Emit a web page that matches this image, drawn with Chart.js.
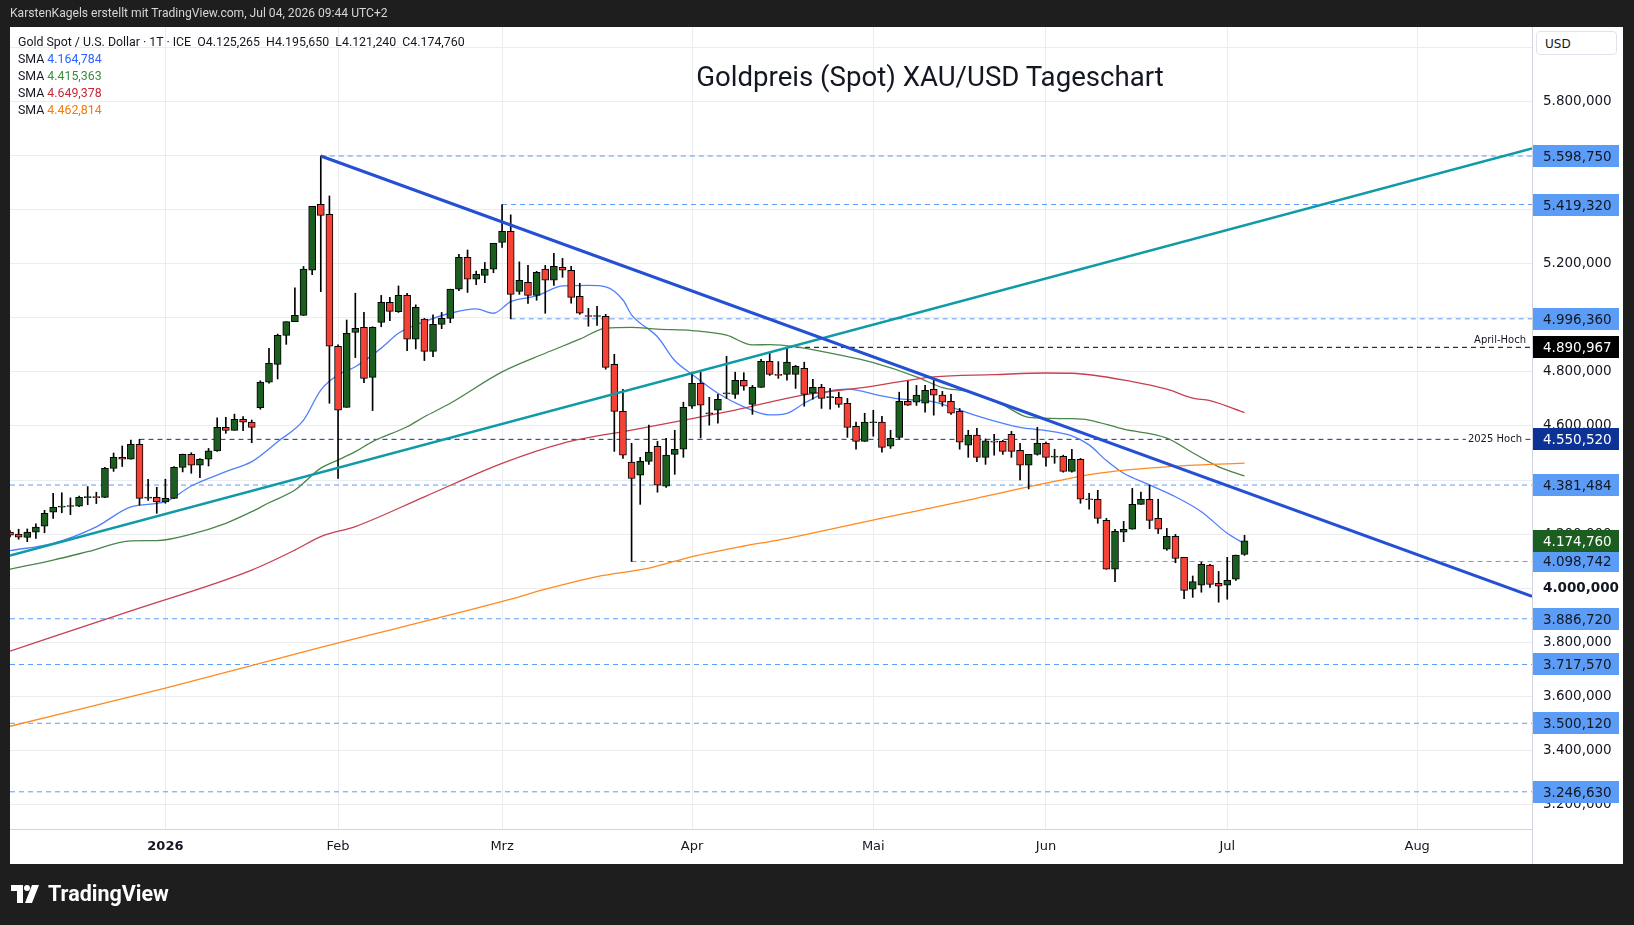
<!DOCTYPE html>
<html>
<head>
<meta charset="utf-8">
<style>
  html, body { margin: 0; padding: 0; background: #1e1e1e; }
  body { width: 1634px; height: 925px; position: relative; overflow: hidden; font-family: Roboto, sans-serif; }
  #chart { position: absolute; left: 0; top: 0; }
  #header { position: absolute; left: 10px; top: 6px; color: #d6d6d6; font-size: 12.1px; white-space: nowrap; }
  #legend { position: absolute; left: 18px; top: 34px; color: #131722; font-size: 12.35px; line-height: 16.9px; white-space: pre; }
  #title { position: absolute; left: 930px; top: 60px; transform: translateX(-50%); font-size: 27.6px; color: #131722; white-space: nowrap; }
  #usd { position: absolute; left: 1536px; top: 31px; width: 81px; height: 24px; border: 1px solid #e0e3eb; border-radius: 4px;
         background: #fff; font: 12px 'DejaVu Sans', sans-serif; color: #131722; line-height: 24px; padding-left: 8px; box-sizing: border-box; }
  #brand { position: absolute; left: 11px; top: 881px; color: #fff; font-size: 21.5px; font-weight: 700; display: flex; align-items: center; }
  #brand svg { margin-right: 9px; }
</style>
</head>
<body>
<canvas id="chart" width="1634" height="925"></canvas>
<div id="header">KarstenKagels erstellt mit TradingView.com, Jul 04, 2026 09:44 UTC+2</div>
<div id="legend"></div>
<div id="title">Goldpreis (Spot) XAU/USD Tageschart</div>
<div id="usd">USD</div>
<div id="brand">
  <svg width="28" height="18" viewBox="0 0 28 18"><rect x="0" y="0" width="12" height="6" fill="#fff"/><rect x="6" y="0" width="6" height="18" fill="#fff"/><circle cx="16" cy="3" r="3" fill="#fff"/><polygon points="21,0 28,0 21,18 14,18" fill="#fff"/></svg>
  TradingView
</div>
<script src="https://cdn.jsdelivr.net/npm/chart.js@4.4.1/dist/chart.umd.min.js"></script>
<script>
// daily bars, bar index 0 = first session of 2026
const firstBar = -18;
const opens = [
  4207, 4200, 4188, 4207, 4229, 4281, 4300, 4302, 4303, 4335,
  4337, 4336, 4443, 4484, 4477, 4532, 4333, 4336, 4319, 4332,
  4447, 4495, 4455, 4477, 4508, 4595, 4584, 4625, 4614, 4668,
  4762, 4828, 4935, 4986, 5009, 5176, 5420, 5383, 4895, 4669,
  4946, 4965, 4780, 4983, 5057, 5023, 5083, 4921, 4995, 4876,
  4976, 4998, 5106, 5224, 5143, 5157, 5180, 5279, 5320, 5098,
  5131, 5083, 5180, 5139, 5187, 5176, 5080, 5007, 5005, 5006,
  4828, 4654, 4466, 4418, 4469, 4525, 4377, 4495, 4514, 4673,
  4758, 4645, 4658, 4719, 4717, 4769, 4680, 4743, 4839, 4789,
  4791, 4791, 4813, 4721, 4743, 4705, 4706, 4684, 4599, 4543,
  4612, 4614, 4525, 4558, 4691, 4688, 4684, 4736, 4714, 4691,
  4654, 4529, 4566, 4484, 4541, 4543, 4569, 4510, 4455, 4495,
  4536, 4485, 4488, 4432, 4477, 4330, 4329, 4251, 4070, 4207,
  4218, 4310, 4329, 4258, 4144, 4192, 4114, 3996, 4011, 4085,
  4018, 4011, 4033, 4125.265
];
const highs = [
  4213, 4218, 4219, 4238, 4288, 4351, 4353, 4334, 4341, 4376,
  4355, 4447, 4500, 4526, 4548, 4550.52, 4403, 4373, 4403, 4450,
  4496, 4501, 4479, 4517, 4630, 4632, 4644, 4635, 4622, 4767,
  4887, 4940, 4986, 5111, 5190, 5413, 5598.75, 5451, 4900, 4992,
  5091, 5020, 4967, 5083, 5076, 5118, 5091, 5048, 4998, 5011,
  5020, 5106, 5235, 5251, 5173, 5205, 5276, 5419.32, 5381, 5207,
  5194, 5172, 5194, 5239, 5220, 5191, 5128, 5035, 5043, 5013,
  4865, 4736, 4536, 4484, 4603, 4543, 4554, 4584, 4688, 4799,
  4799, 4706, 4717, 4858, 4799, 4797, 4750, 4847, 4869, 4838,
  4890.967, 4824, 4836, 4773, 4754, 4739, 4725, 4702, 4614, 4647,
  4658, 4636, 4584, 4725, 4765, 4750, 4750, 4773, 4728, 4717,
  4665, 4584, 4591, 4552, 4569, 4547, 4580, 4536, 4495, 4595,
  4540, 4514, 4492, 4514, 4480, 4351, 4362, 4258, 4218, 4247,
  4369, 4355, 4381, 4329, 4221, 4199, 4114, 4045, 4096, 4088,
  4062, 4114, 4122, 4195.65
];
const lows = [
  4190, 4181, 4172, 4184, 4205, 4258, 4279, 4272, 4301, 4309,
  4313, 4335, 4432, 4450, 4477, 4307, 4325, 4277, 4314, 4331,
  4430, 4425, 4409, 4452, 4506, 4573, 4584, 4583, 4538, 4662,
  4758, 4774, 4902, 4986, 5009, 5160, 5097, 4684, 4406, 4669,
  4853, 4760, 4657, 4967, 4990, 5020, 4879, 4885, 4842, 4856,
  4960, 4982, 5101, 5094, 5123, 5130, 5167, 5261, 4996.36, 5087,
  5053, 5065, 5017, 5120, 5150, 5054, 5013, 4969, 4972, 4810,
  4506, 4480, 4098.742, 4310, 4458, 4355, 4373, 4421, 4484, 4665,
  4556, 4603, 4610, 4702, 4702, 4732, 4643, 4743, 4787, 4776,
  4769, 4739, 4673, 4699, 4665, 4662, 4669, 4558, 4514, 4543,
  4562, 4503, 4517, 4551, 4676, 4676, 4651, 4640, 4673, 4643,
  4514, 4484, 4468, 4458, 4492, 4495, 4484, 4400, 4367, 4492,
  4451, 4462, 4429, 4429, 4314, 4292, 4240, 4070, 4024, 4172,
  4218, 4310, 4220, 4202, 4140, 4094, 3961, 3966, 3985, 4003,
  3948, 3959, 4029, 4121.24
];
const closes = [
  4196, 4189, 4207, 4226, 4277, 4299, 4303, 4304, 4336, 4337,
  4335, 4443, 4484, 4477, 4532, 4332, 4335, 4319, 4332, 4447,
  4495, 4455, 4477, 4508, 4595, 4584, 4625, 4614, 4595, 4762,
  4832, 4935, 4986, 5009, 5180, 5413, 5379, 4895, 4658, 4943,
  4961, 4776, 4965, 5057, 5024, 5083, 4921, 5039, 4876, 4976,
  4998, 5106, 5224, 5143, 5161, 5180, 5276, 5320, 5087, 5139,
  5083, 5168, 5139, 5191, 5176, 5076, 5017, 5005, 5007, 4817,
  4654, 4492, 4406, 4469, 4503, 4381, 4492, 4514, 4669, 4758,
  4677, 4648, 4699, 4722, 4769, 4747, 4743, 4839, 4791, 4787,
  4836, 4821, 4717, 4743, 4702, 4707, 4680, 4595, 4543, 4614,
  4614, 4521, 4554, 4691, 4677, 4714, 4732, 4714, 4688, 4647,
  4540, 4566, 4484, 4545, 4540, 4506, 4506, 4455, 4495, 4536,
  4484, 4487, 4432, 4477, 4329, 4327, 4258, 4070, 4210, 4218,
  4310, 4329, 4251, 4218, 4192, 4110, 3992, 4024, 4088, 4014,
  4007, 4029, 4122, 4174.76
];

// moving averages: [bar index, value]
const sma20 = [[-18,4139],[-13,4166],[-8,4227],[-4,4301],[0,4320],[3,4378],[7,4431],[10,4468],[13,4542],[16,4622],[18,4733],[20,4789],[22,4819],[25,4888],[27,4943],[30,4986],[33,5017],[36,5033],[38,5017],[40,5060],[43,5081],[46,5118],[49,5120],[51,5115],[53,5066],[54,5011],[57,4930],[59,4842],[61,4791],[64,4721],[67,4671],[70,4641],[72,4647],[74,4684],[77,4730],[79,4736],[83,4711],[85,4700],[89,4689],[92,4659],[95,4628],[99,4595],[102,4583],[105,4563],[107,4530],[109,4472],[111,4425],[114,4382],[117,4338],[120,4283],[123,4203],[125,4164.784]];
const sma50 = [[-18,4070],[-13,4104],[-9,4135],[-4,4175],[-1,4176],[3,4200],[7,4240],[10,4283],[12,4316],[15,4363],[18,4444],[20,4474],[22,4505],[24,4542],[28,4597],[30,4634],[33,4684],[39,4800],[44,4869],[48,4921],[51,4962],[54,4965],[57,4958],[61,4953],[65,4936],[68,4900],[70,4901],[73,4893],[78,4863],[82,4834],[87,4782],[90,4742],[93,4727],[97,4678],[100,4632],[105,4627],[107,4622],[111,4588],[116,4555],[119,4501],[122,4449],[125,4415.363]];
const sma100 = [[-18,3767],[-4,3916],[10,4067],[15,4141],[18,4191],[22,4228],[30,4338],[39,4462],[46,4536],[54,4585],[61,4627],[66,4659],[74,4715],[81,4743],[89,4782],[96,4790],[102,4796],[105,4795],[112,4764],[116,4736],[119,4703],[121,4694],[125,4649.378]];
const sma200 = [[-18,3489],[0,3630],[17,3773],[40,3959],[44,3996],[50,4043],[56,4074],[61,4117],[67,4156],[71,4178],[83,4259],[93,4326],[100,4375],[108,4425],[116,4449],[125,4462.814]];

// drawn trend lines: [bar index, price]
const downTrend = [[18, 5598.75], [158.3, 3970]];
const upTrend = [[-18, 4121], [158.3, 5627]];

// horizontal levels and the bar they start at
const levels = [5598.75, 5419.32, 4996.36, 4890.967, 4550.52, 4381.484, 4098.742, 3886.72, 3717.57, 3500.12, 3246.63];
const levelFrom = [18, 39, 40, 72, -3, -18, 54, -18, -18, -18, -18];
const levelNames = ['', '', '', 'April-Hoch', '2025 Hoch', '', '', '', '', '', ''];

const monthTicks = [0, 20, 39, 61, 82, 102, 123, 145];
const monthLabels = ['2026', 'Feb', 'Mrz', 'Apr', 'Mai', 'Jun', 'Jul', 'Aug'];
const priceTicks = [3200, 3400, 3600, 3800, 4000, 4200, 4400, 4600, 4800, 5000, 5200, 5400, 5600, 5800, 6000];

const xMin = -18, xMax = 158.3;
const UP = '#1b5e20', DOWN = '#f44336', LEVEL = '#5b9cf6', GRID = '#ebecf0';
const levelColor = v => v === 4890.967 ? '#000000' : v === 4550.52 ? '#0d3296' : LEVEL;

function fmt(v) {
  const [a, b] = Number(v).toFixed(3).split('.');
  return a.replace(/\B(?=(\d{3})+(?!\d))/g, '.') + ',' + b;
}

const last = closes.length - 1;
document.getElementById('legend').innerHTML =
  'Gold Spot / U.S. Dollar \u00b7 1T \u00b7 ICE  O' + fmt(opens[last]) + '  H' + fmt(highs[last]) + '  L' + fmt(lows[last]) + '  C' + fmt(closes[last]) + '\n' +
  'SMA <span style="color:#2962ff">' + fmt(sma20[sma20.length - 1][1]) + '</span>\n' +
  'SMA <span style="color:#388e3c">' + fmt(sma50[sma50.length - 1][1]) + '</span>\n' +
  'SMA <span style="color:#c62838">' + fmt(sma100[sma100.length - 1][1]) + '</span>\n' +
  'SMA <span style="color:#f57c00">' + fmt(sma200[sma200.length - 1][1]) + '</span>';

const bars = opens.map((o, k) => firstBar + k);
const toXY = arr => arr.map(([x, y]) => ({ x, y }));

const datasets = [];
levels.forEach((v, k) => {
  datasets.push({
    type: 'line', data: [{ x: levelFrom[k], y: v }, { x: xMax, y: v }],
    borderColor: levelColor(v), borderWidth: 1, borderDash: [5, 4], pointRadius: 0, order: 6
  });
});
[[sma200, '#ff8a1f'], [sma100, '#c8404e'], [sma50, '#4a854a'], [sma20, '#4f7fff']].forEach(([s, c]) => {
  datasets.push({ type: 'line', data: toXY(s), borderColor: c, borderWidth: 1.3, pointRadius: 0, cubicInterpolationMode: 'monotone', order: 5 });
});
datasets.push({
  type: 'bar', data: bars.map((x, k) => ({ x, y: [lows[k], highs[k]] })),
  backgroundColor: '#000', borderWidth: 0, barThickness: 1, grouped: false, order: 4
});
datasets.push({
  type: 'bar', data: bars.map((x, k) => ({ x, y: [opens[k], closes[k]] })),
  backgroundColor: ctx => closes[ctx.dataIndex] >= opens[ctx.dataIndex] ? UP : DOWN,
  borderColor: '#000', borderWidth: 1, borderSkipped: false, barThickness: 7, minBarLength: 1, grouped: false, order: 3
});
datasets.push({ type: 'line', data: toXY(upTrend), borderColor: '#0e9aa7', borderWidth: 2.5, pointRadius: 0, order: 2 });
datasets.push({ type: 'line', data: toXY(downTrend), borderColor: '#2451d4', borderWidth: 3, pointRadius: 0, order: 1 });

const frame = {
  id: 'frame',
  beforeDraw(chart) {
    const c = chart.ctx;
    c.save();
    c.fillStyle = '#ffffff';
    c.fillRect(10, 27, 1613, 837);
    c.restore();
  },
  afterDraw(chart) {
    const c = chart.ctx, y = chart.scales.y, area = chart.chartArea;
    c.save();
    // divider below the price scale
    c.strokeStyle = '#d1d4dc';
    c.lineWidth = 1;
    c.beginPath();
    c.moveTo(area.right + 0.5, area.bottom);
    c.lineTo(area.right + 0.5, 864);
    c.stroke();
    // level names on the lines
    c.font = '10px "DejaVu Sans"';
    c.textAlign = 'right';
    levels.forEach((v, k) => {
      if (!levelNames[k]) return;
      const py = y.getPixelForValue(v);
      if (k === 4) {
        const w = c.measureText(levelNames[k]).width;
        c.fillStyle = '#fff';
        c.fillRect(area.right - 12 - w, py - 6, w + 4, 12);
        c.fillStyle = '#131722';
        c.textBaseline = 'middle';
        c.fillText(levelNames[k], area.right - 10, py);
      } else {
        c.fillStyle = '#131722';
        c.textBaseline = 'bottom';
        c.fillText(levelNames[k], area.right - 6, py - 2);
      }
    });
    // price labels on the scale
    c.font = '13.5px "DejaVu Sans"';
    c.textAlign = 'left';
    c.textBaseline = 'middle';
    const tags = levels.map(v => ({ v, bg: levelColor(v), fg: levelColor(v) === LEVEL ? '#131722' : '#ffffff' }));
    tags.push({ v: closes[last], bg: UP, fg: '#ffffff' });
    tags.forEach(t => {
      const py = Math.round(y.getPixelForValue(t.v));
      c.fillStyle = t.bg;
      c.fillRect(area.right + 1, py - 11, 86, 22);
      c.fillStyle = t.fg;
      c.fillText(fmt(t.v), area.right + 11, py + 1);
    });
    c.restore();
  }
};

new Chart(document.getElementById('chart'), {
  type: 'bar',
  data: { datasets },
  options: {
    responsive: false,
    animation: false,
    devicePixelRatio: 1,
    layout: { padding: { left: 10, top: 27, right: 11, bottom: 61 } },
    plugins: { legend: { display: false }, tooltip: { enabled: false } },
    scales: {
      x: {
        type: 'linear', min: xMin, max: xMax, offset: false,
        grid: { color: GRID, drawTicks: false, offset: false },
        border: { color: '#d1d4dc' },
        ticks: {
          autoSkip: false, maxRotation: 0, padding: 10, color: '#131722',
          font: ctx => ({ family: '"DejaVu Sans"', size: 13, weight: ctx.index === 0 ? 'bold' : 'normal' }),
          callback: (v, i) => monthLabels[i]
        },
        afterBuildTicks: s => { s.ticks = monthTicks.map(v => ({ value: v })); },
        afterFit: s => { s.height = 35; }
      },
      y: {
        position: 'right', min: 3109, max: 6076,
        grid: { color: GRID, drawTicks: false },
        border: { color: '#d1d4dc' },
        ticks: {
          padding: 11, color: '#131722',
          font: ctx => ({ family: '"DejaVu Sans"', size: 13.5, weight: ctx.tick && ctx.tick.value === 4000 ? 'bold' : 'normal' }),
          callback: v => fmt(v)
        },
        afterBuildTicks: s => { s.ticks = priceTicks.map(v => ({ value: v })); },
        afterFit: s => { s.width = 91; }
      }
    }
  },
  plugins: [frame]
});
</script>
</body>
</html>
